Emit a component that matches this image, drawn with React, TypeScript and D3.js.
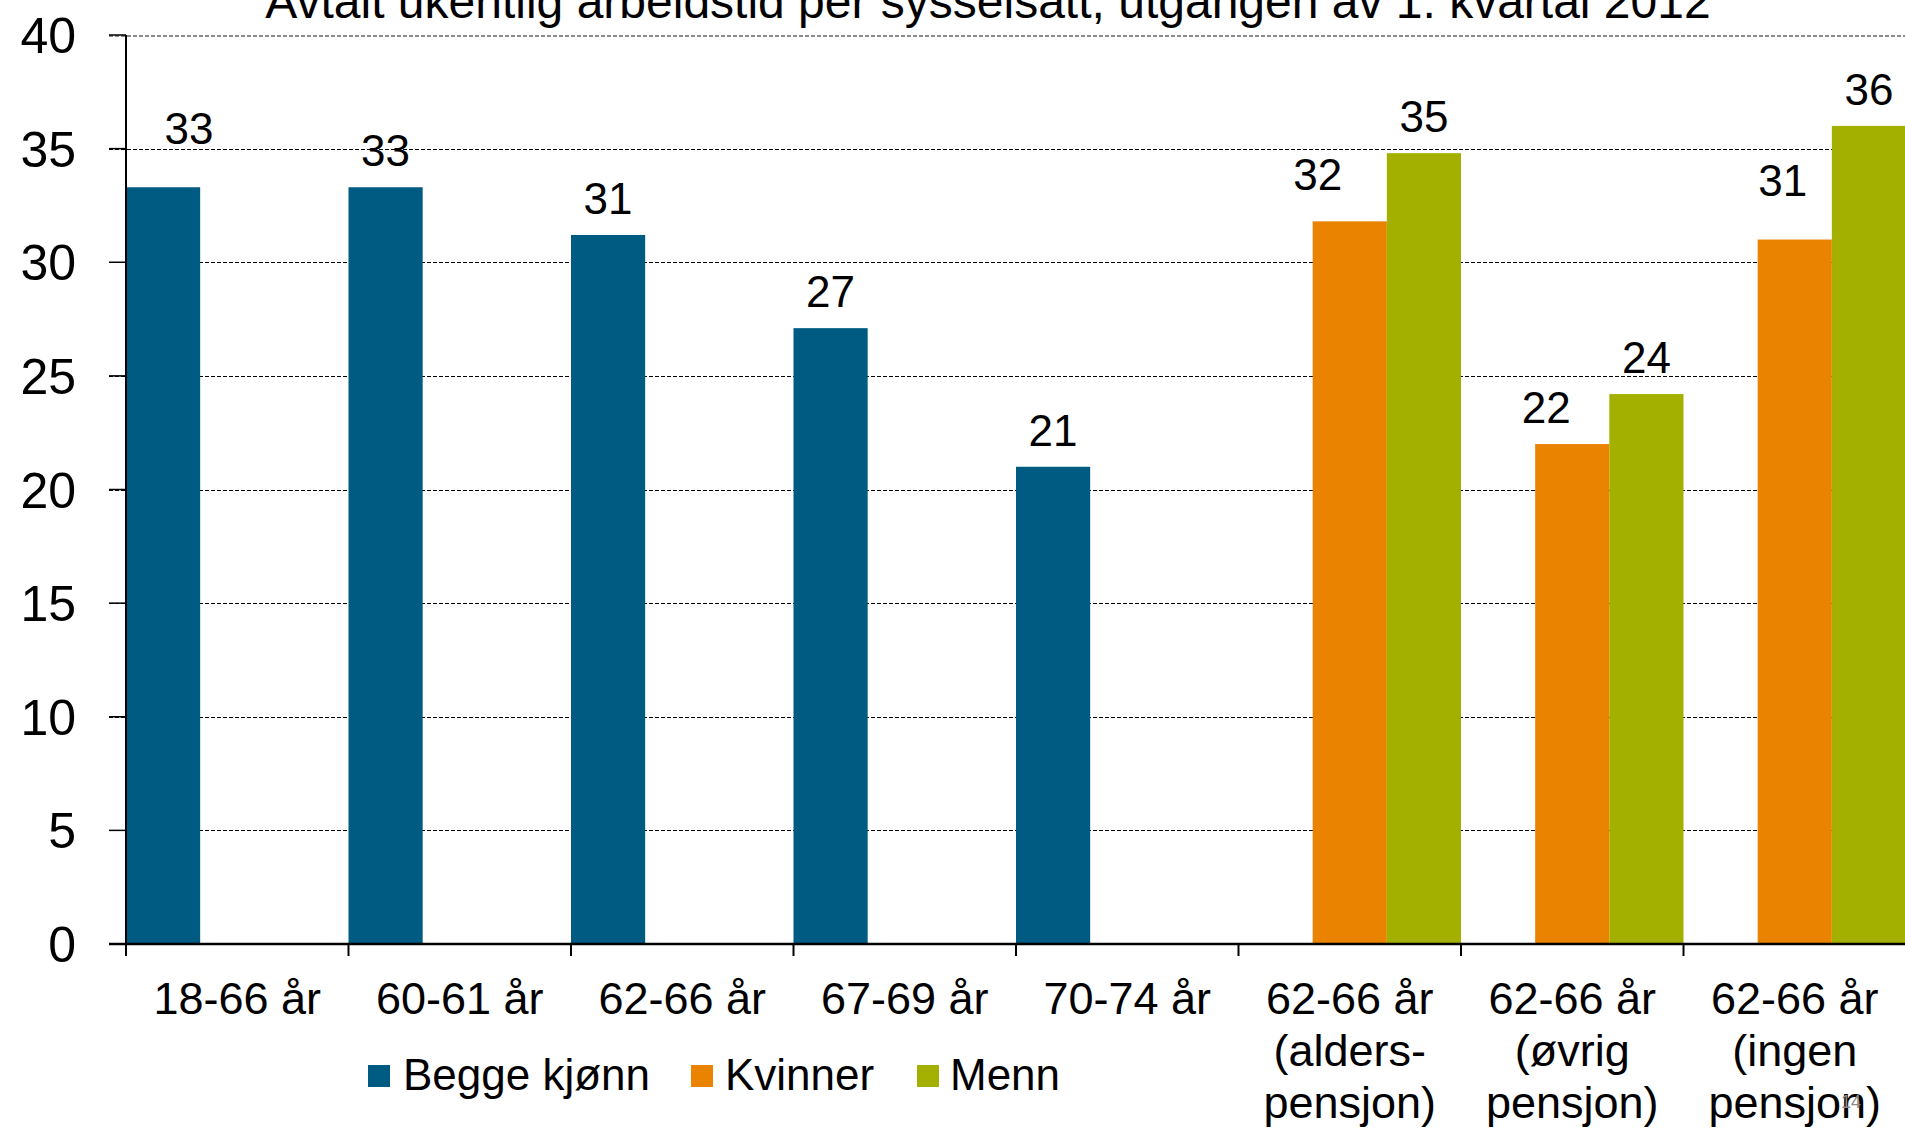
import React from "react";
import * as d3 from "d3";

// kategorier (linjer i aksetekst)
const categories = [
  ["18-66 år"],
  ["60-61 år"],
  ["62-66 år"],
  ["67-69 år"],
  ["70-74 år"],
  ["62-66 år", "(alders-", "pensjon)"],
  ["62-66 år", "(øvrig", "pensjon)"],
  ["62-66 år", "(ingen", "pensjon)"],
];

const seriesNames = ["Begge kjønn", "Kvinner", "Menn"];
const begge = [33.3, 33.3, 31.2, 27.1, 21.0, null, null, null];
const kvinner = [null, null, null, null, null, 31.8, 22.0, 31.0];
const menn = [null, null, null, null, null, 34.8, 24.2, 36.0];
const yTicks = [0, 5, 10, 15, 20, 25, 30, 35, 40];

const title = "Avtalt ukentlig arbeidstid per sysselsatt, utgangen av 1. kvartal 2012";

// manuelle flytt av verdietiketter (som i originalen)
const labelNudge: Record<string, [number, number]> = {
  "0-0": [26, -22],
  "1-5": [-32, -10],
  "1-6": [-26, 0],
  "1-7": [-12, -23],
};

const colors = ["#005b82", "#e98300", "#a3b000"];
const font = "'Liberation Sans', Arial, Helvetica, sans-serif";

const W = 1905;
const H = 1133;
const left = 126;
const right = 1906;
const top = 35;
const bottom = 944;

export default function App() {
  const keys = categories.map((c) => c.join(" "));
  const x = d3.scaleBand<string>().domain(keys).range([left, right]).padding(0);
  const x1 = d3.scaleBand<number>().domain([0, 1, 2]).range([0, x.bandwidth()]).padding(0);
  const y = d3.scaleLinear().domain([0, 40]).range([bottom, top]);
  const fmt = d3.format(".0f");
  const series = [begge, kvinner, menn];

  const bars: React.ReactNode[] = [];
  const labels: React.ReactNode[] = [];
  series.forEach((vals, s) => {
    vals.forEach((v, i) => {
      if (v == null) return;
      const bx = (x(keys[i]) as number) + (x1(s) as number);
      const bw = x1.bandwidth();
      bars.push(
        <rect key={`b${s}-${i}`} x={bx} y={y(v)} width={bw} height={y(0) - y(v)} fill={colors[s]} />
      );
      const n = labelNudge[`${s}-${i}`] || [0, 0];
      labels.push(
        <text
          key={`l${s}-${i}`}
          x={bx + bw / 2 + n[0]}
          y={y(v) - 21 + n[1]}
          textAnchor="middle"
          fontSize={44}
        >
          {fmt(v)}
        </text>
      );
    });
  });

  const legendPos = [
    [368, 403],
    [691, 725],
    [917, 950],
  ];

  return (
    <div style={{ position: "absolute", left: 0, top: 0, width: W, height: H, overflow: "hidden" }}>
      <svg width={W} height={H} style={{ display: "block", fontFamily: font, background: "#fff" }}>
        <text x={988} y={18} textAnchor="middle" fontSize={48} fill="#000">
          {title}
        </text>

        {/* rutenett */}
        {yTicks.filter((t) => t > 0).map((t) => (
          <line
            key={`g${t}`}
            x1={109}
            x2={W}
            y1={Math.round(y(t)) + 0.5}
            y2={Math.round(y(t)) + 0.5}
            stroke={t === 40 ? "#8a8a8a" : "#000"}
            strokeWidth={t === 40 ? 2 : 1.2}
            strokeDasharray="4,2"
            shapeRendering="crispEdges"
          />
        ))}

        {bars}

        {/* akser */}
        <line x1={left} x2={left} y1={top} y2={bottom} stroke="#000" strokeWidth={2} />
        <line x1={109} x2={W} y1={bottom} y2={bottom} stroke="#000" strokeWidth={2.5} />
        {yTicks.map((t) => (
          <g key={`yt${t}`}>
            <line x1={109} x2={left} y1={y(t)} y2={y(t)} stroke="#000" strokeWidth={1.5} />
            <text x={76} y={y(t) + 18} textAnchor="end" fontSize={50}>
              {t}
            </text>
          </g>
        ))}
        {d3.range(categories.length + 1).map((i) => {
          const xx = i < categories.length ? (x(keys[i]) as number) : right;
          return <line key={`xt${i}`} x1={xx} x2={xx} y1={bottom} y2={bottom + 12} stroke="#000" strokeWidth={2} />;
        })}
        {categories.map((lines, i) => (
          <text key={`c${i}`} textAnchor="middle" fontSize={45}>
            {lines.map((ln, j) => (
              <tspan key={j} x={(x(keys[i]) as number) + x.bandwidth() / 2} y={1014 + j * 52}>
                {ln}
              </tspan>
            ))}
          </text>
        ))}

        {labels}

        {/* tegnforklaring */}
        {seriesNames.map((name, s) => (
          <g key={`lg${s}`}>
            <rect x={legendPos[s][0]} y={1065} width={22} height={22} fill={colors[s]} />
            <text x={legendPos[s][1]} y={1090} fontSize={44}>
              {name}
            </text>
          </g>
        ))}

        <text x={1841} y={1108} fontSize={18} fill="#888">
          14
        </text>
      </svg>
    </div>
  );
}
